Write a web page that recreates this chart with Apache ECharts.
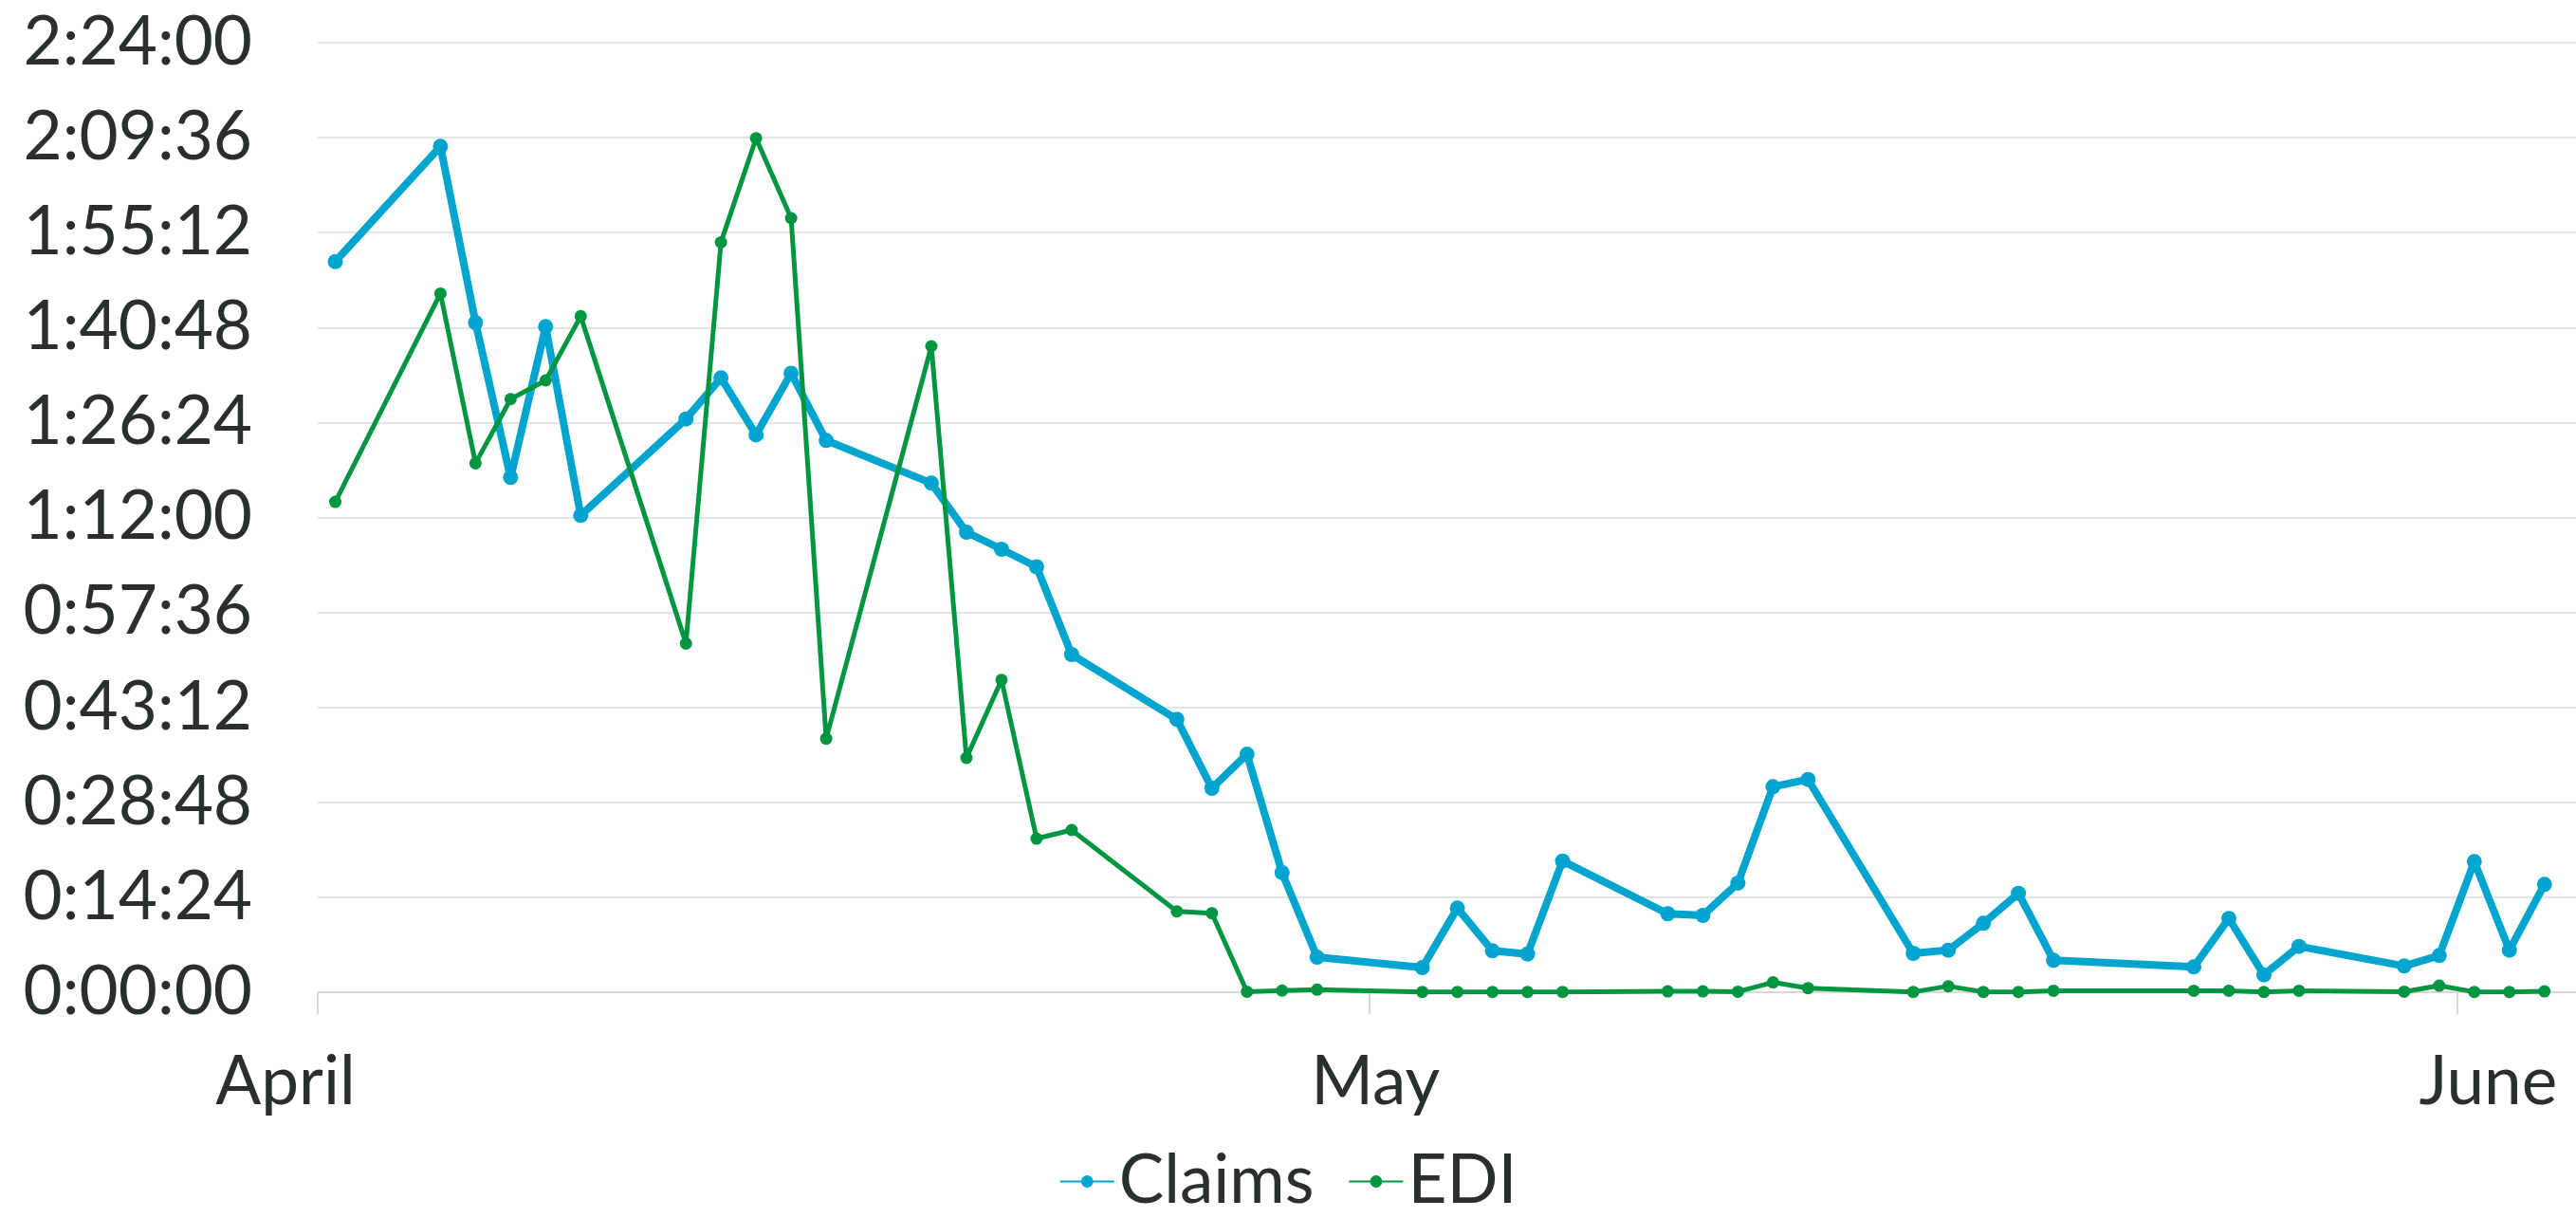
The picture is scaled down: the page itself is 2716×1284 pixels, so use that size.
<!DOCTYPE html>
<html>
<head>
<meta charset="utf-8">
<script src="https://cdn.jsdelivr.net/npm/echarts@6/dist/echarts.min.js"></script>
<style>
  html, body { margin: 0; padding: 0; background: #ffffff; }
  #chart { width: 2716px; height: 1284px; }
</style>
</head>
<body>
<div id="chart"></div>
<script>
// Dates (weekdays with data)
const dates = [
  '2022-04-01',
  '2022-04-04', '2022-04-05', '2022-04-06', '2022-04-07', '2022-04-08',
  '2022-04-11', '2022-04-12', '2022-04-13', '2022-04-14', '2022-04-15',
  '2022-04-18', '2022-04-19', '2022-04-20', '2022-04-21', '2022-04-22',
  '2022-04-25', '2022-04-26', '2022-04-27', '2022-04-28', '2022-04-29',
  '2022-05-02', '2022-05-03', '2022-05-04', '2022-05-05', '2022-05-06',
  '2022-05-09', '2022-05-10', '2022-05-11', '2022-05-12', '2022-05-13',
  '2022-05-16', '2022-05-17', '2022-05-18', '2022-05-19', '2022-05-20',
  '2022-05-24', '2022-05-25', '2022-05-26', '2022-05-27',
  '2022-05-30', '2022-05-31', '2022-06-01', '2022-06-02', '2022-06-03'
];

// Durations in seconds
const claims = [
  6648,
  7696, 6093, 4684, 6056, 4339,
  5216, 5590, 5072, 5633, 5021,
  4632, 4186, 4031, 3871, 3073,
  2483, 1856, 2166, 1088, 319,
  224, 765, 377, 348, 1194,
  714, 699, 993, 1870, 1936,
  354, 383, 627, 900, 291,
  230, 671, 158, 417,
  239, 334, 1188, 383, 981
];

const edi = [
  4462,
  6358, 4813, 5397, 5567, 6151,
  3173, 6824, 7771, 7043, 2307,
  5878, 2132, 2842, 1398, 1476,
  736, 719, 5, 15, 23,
  3, 3, 3, 3, 3,
  8, 8, 5, 90, 37,
  3, 55, 3, 3, 14,
  14, 14, 3, 14,
  5, 60, 3, 3, 8
];

// Axis ticks / labels
const monthTicks = ['2022-04-01', '2022-05-01', '2022-06-01'];
const monthNames = ['April', 'May', 'June'];
const yMax = 8640;      // 2:24:00
const yStep = 864;      // 0:14:24

const xStart = '2022-04-01 00:00:00';
const xEnd = '2022-06-04 09:36:00';

function toTs(s) { return echarts.time.parse(s).getTime(); }
const monthTickTs = monthTicks.map(s => toTs(s + ' 00:00:00'));

function fmtDuration(sec) {
  sec = Math.round(sec);
  const h = Math.floor(sec / 3600);
  const m = Math.floor((sec % 3600) / 60);
  const s = sec % 60;
  return h + ':' + String(m).padStart(2, '0') + ':' + String(s).padStart(2, '0');
}

const textColor = '#2a2e2e';
const fontFamily = 'Lato, "Liberation Sans", sans-serif';

const chart = echarts.init(document.getElementById('chart'), null, { renderer: 'canvas' });

chart.setOption({
  animation: false,
  backgroundColor: '#ffffff',
  grid: { left: 335, right: 0, top: 45, height: 1001, containLabel: false },
  legend: {
    data: ['Claims', 'EDI'],
    left: 'center',
    top: 1205,
    itemWidth: 57,
    itemHeight: 16,
    itemGap: 36,
    textStyle: { fontSize: 71, color: textColor, fontFamily: fontFamily }
  },
  xAxis: {
    type: 'value',
    min: toTs(xStart),
    max: toTs(xEnd),
    axisLine: { show: true, lineStyle: { color: '#d9d9d9', width: 2 } },
    axisTick: { show: true, length: 23, lineStyle: { color: '#d9d9d9', width: 2 }, customValues: monthTickTs },
    splitLine: { show: false },
    axisLabel: {
      customValues: monthTickTs,
      margin: 60,
      fontSize: 71,
      color: textColor,
      fontFamily: fontFamily,
      formatter: function (val) {
        let idx = 0;
        for (let k = 1; k < monthTickTs.length; k++) {
          if (Math.abs(monthTickTs[k] - val) < Math.abs(monthTickTs[idx] - val)) idx = k;
        }
        const key = ['a', 'b', 'c'][idx];
        return '{' + key + '|' + monthNames[idx] + '}';
      },
      rich: {
        a: { fontSize: 71, color: textColor, fontFamily: fontFamily, padding: [0, 68, 0, 0] },
        b: { fontSize: 71, color: textColor, fontFamily: fontFamily, padding: [0, 0, 0, 12] },
        c: { fontSize: 71, color: textColor, fontFamily: fontFamily, padding: [0, 0, 0, 66] }
      }
    }
  },
  yAxis: {
    type: 'value',
    min: 0,
    max: yMax,
    interval: yStep,
    axisLine: { show: false },
    axisTick: { show: false },
    splitLine: { show: true, lineStyle: { color: '#e2e5e5', width: 2 } },
    axisLabel: {
      margin: 69,
      fontSize: 71,
      color: textColor,
      fontFamily: fontFamily,
      formatter: fmtDuration
    }
  },
  series: [
    {
      name: 'Claims',
      type: 'line',
      data: dates.map((d, i) => [toTs(d + ' 12:00:00'), claims[i]]),
      symbol: 'circle',
      symbolSize: 16,
      lineStyle: { color: '#00a5cf', width: 8 },
      itemStyle: { color: '#00a5cf' }
    },
    {
      name: 'EDI',
      type: 'line',
      data: dates.map((d, i) => [toTs(d + ' 12:00:00'), edi[i]]),
      symbol: 'circle',
      symbolSize: 13,
      lineStyle: { color: '#009540', width: 5 },
      itemStyle: { color: '#009540' }
    }
  ]
});
</script>
</body>
</html>
